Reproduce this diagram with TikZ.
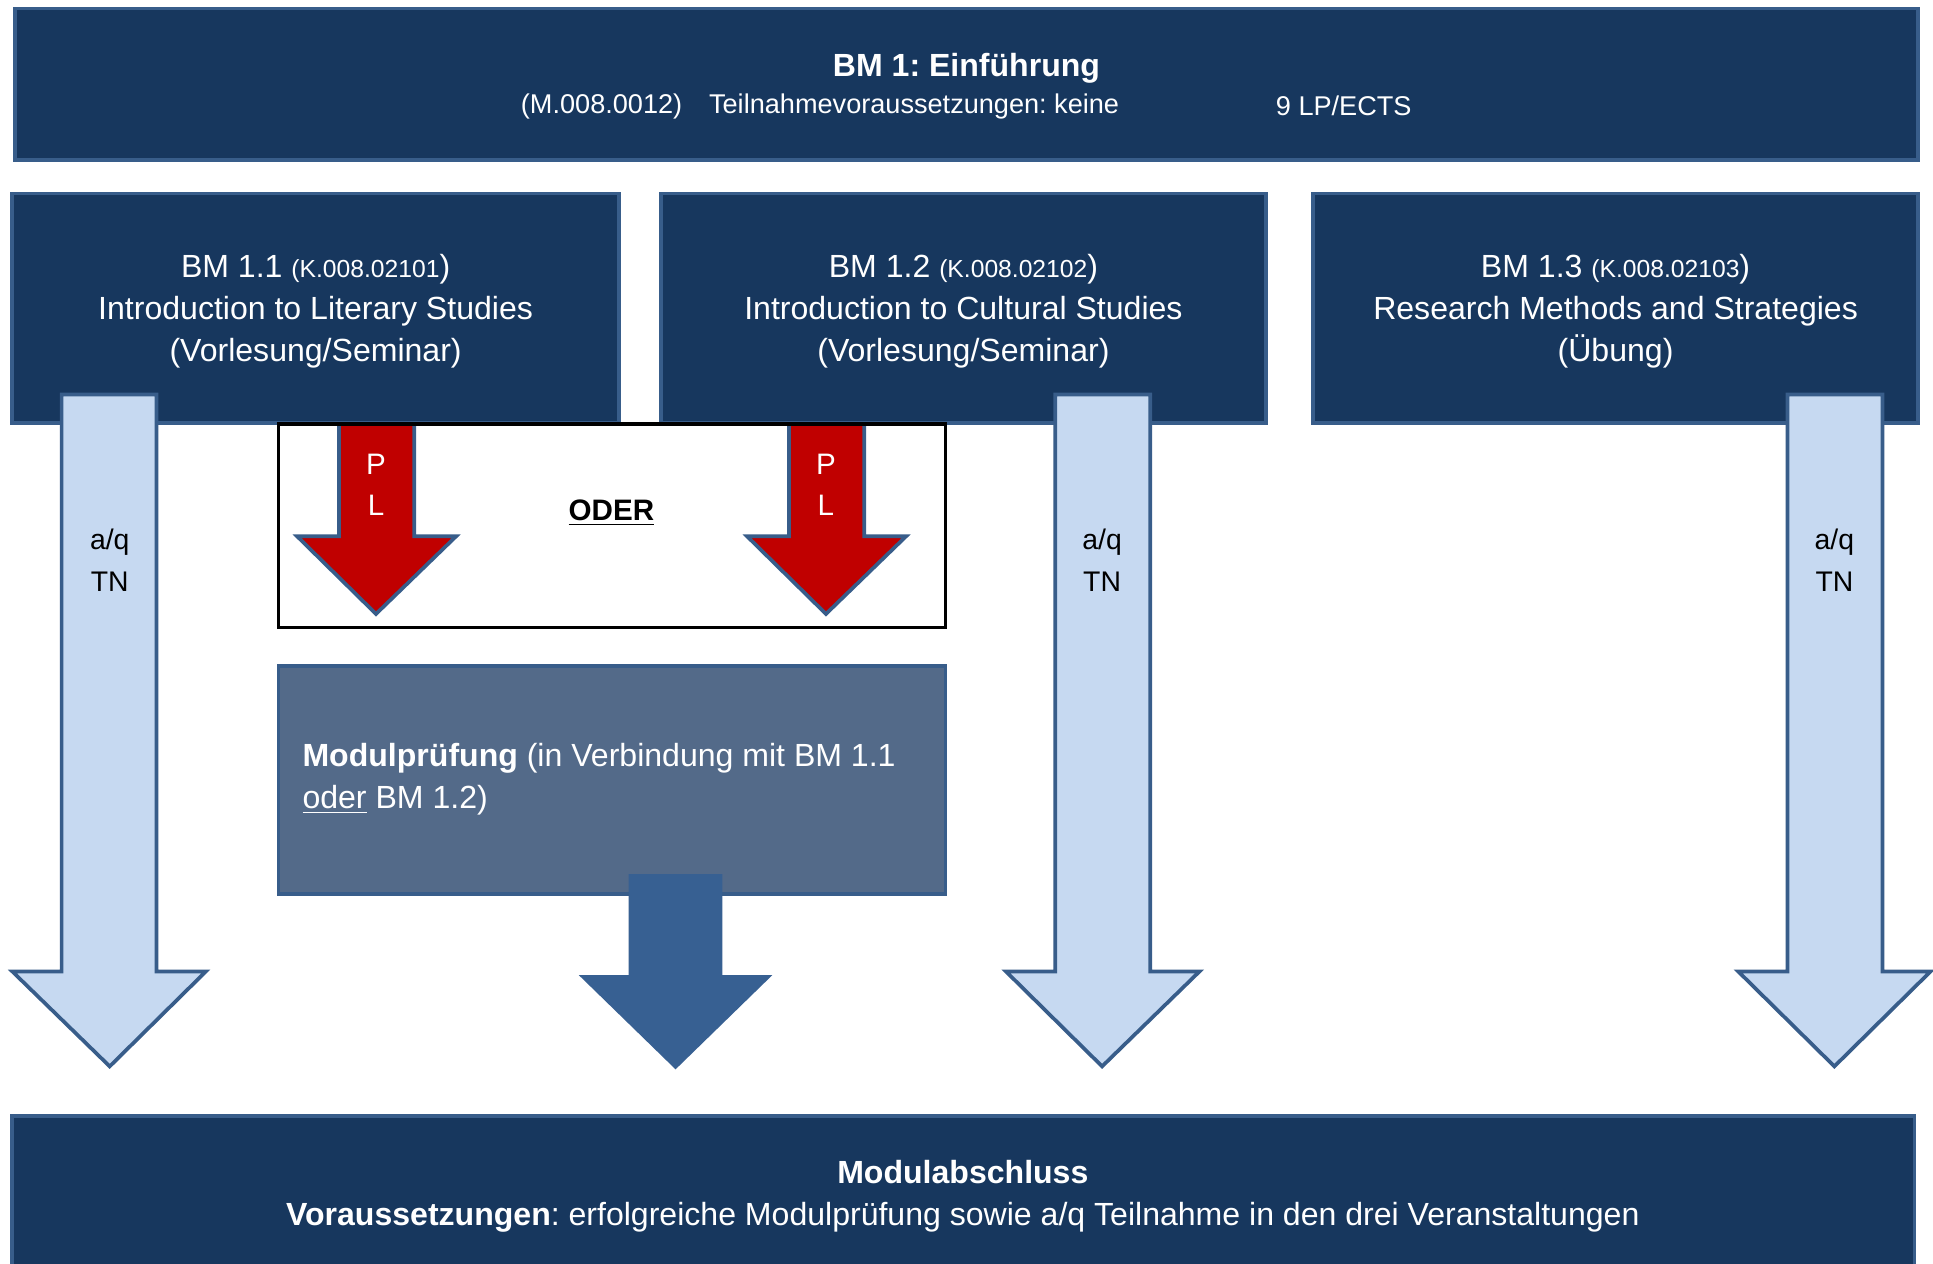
\documentclass[tikz,border=0pt]{standalone}
\usepackage{fontspec}
\setmainfont{Liberation Sans}
\frenchspacing
\definecolor{navy}{HTML}{17375E}
\definecolor{edgeblue}{HTML}{385D8A}
\definecolor{lightb}{HTML}{C6D9F1}
\definecolor{modulfill}{HTML}{536A89}
\definecolor{darkarr}{HTML}{376092}
\definecolor{redarr}{HTML}{C00000}
\begin{document}
\begin{tikzpicture}[x=0.5pt,y=-0.5pt,
  navybox/.style={draw=edgeblue, fill=navy, line width=1.5pt, inner sep=0pt, text=white},
  modulbox/.style={draw=edgeblue, fill=modulfill, line width=1.5pt, inner sep=0pt, text=white},
  oderbox/.style={draw=black, line width=1.5pt, inner sep=0pt},
  lightarrow/.style={draw=edgeblue, fill=lightb, line width=1.5pt},
  redarrow/.style={draw=edgeblue, fill=redarr, line width=1.5pt},
  darkarrow/.style={draw=darkarr, fill=darkarr, line width=1pt},
  big/.style={font=\fontsize{13}{17}\selectfont},
  mid/.style={font=\fontsize{11}{13}\selectfont},
  lbl/.style={font=\fontsize{11.5}{14}\selectfont, inner sep=0pt}
]
\useasboundingbox (0,0) rectangle (1568,1025);
\fill[white] (0,0) rectangle (1568,1025);

% top box
\node[navybox, minimum width=772pt, minimum height=61.5pt] (top) at (784,68.5) {};
\node[big, text=white, font=\fontsize{13}{17}\selectfont\bfseries] (toptitle) at (784,55) {BM 1: Einführung};
\node[mid, text=white] (topcode) at (488,86) {(M.008.0012)};
\node[mid, text=white] (topreq) at (741.5,86) {Teilnahmevoraussetzungen: keine};
\node[mid, text=white] (topects) at (1090,86) {9 LP/ECTS};

% row boxes
\node[navybox, minimum width=246pt, minimum height=93pt] (bm11) at (256,250) {};
\node[navybox, minimum width=245.5pt, minimum height=93pt] (bm12) at (781.5,250) {};
\node[navybox, minimum width=245.5pt, minimum height=93pt] (bm13) at (1310.5,250) {};
\node[big, text=white, align=center] (bm11txt) at (256,252.5)
  {BM 1.1 {\fontsize{10}{12}\selectfont(K.008.02101})\\Introduction to Literary Studies\\(Vorlesung/Seminar)};
\node[big, text=white, align=center] (bm12txt) at (781.5,252.5)
  {BM 1.2 {\fontsize{10}{12}\selectfont(K.008.02102})\\Introduction to Cultural Studies\\(Vorlesung/Seminar)};
\node[big, text=white, align=center] (bm13txt) at (1310.5,252.5)
  {BM 1.3 {\fontsize{10}{12}\selectfont(K.008.02103})\\Research Methods and Strategies\\(Übung)};

% light arrows
\draw[lightarrow] (50,320) -- (127,320) -- (127,788) -- (167,788) -- (89,865) -- (10,788) -- (50,788) -- cycle;
\draw[lightarrow] (856,320) -- (933,320) -- (933,788) -- (973,788) -- (894,865) -- (816,788) -- (856,788) -- cycle;
\draw[lightarrow] (1450,320) -- (1527,320) -- (1527,788) -- (1566,788) -- (1488,865) -- (1410,788) -- (1450,788) -- cycle;
\node[lbl] (aq1) at (89,440) {a/q};
\node[lbl] (tn1) at (89,472) {TN};
\node[lbl] (aq2) at (894,440) {a/q};
\node[lbl] (tn2) at (894,472) {TN};
\node[lbl] (aq3) at (1488,440) {a/q};
\node[lbl] (tn3) at (1488,472) {TN};

% ODER box
\fill[white] (226,344) rectangle (767,509);
\draw[redarrow] (275,344) -- (336,344) -- (336,435) -- (370,435) -- (305,498) -- (241,435) -- (275,435) -- cycle;
\draw[redarrow] (640,344) -- (701,344) -- (701,435) -- (735,435) -- (670,498) -- (606,435) -- (640,435) -- cycle;
\node[oderbox, minimum width=270.5pt, minimum height=82.5pt] (oder) at (496.5,426.5) {};
\node[lbl, font=\fontsize{12}{14}\selectfont\bfseries] (odertxt) at (496,416) {\underline{ODER}};
\node[lbl, text=white, font=\fontsize{12}{14}\selectfont] (p1) at (305,377) {P};
\node[lbl, text=white, font=\fontsize{12}{14}\selectfont] (l1) at (305,410) {L};
\node[lbl, text=white, font=\fontsize{12}{14}\selectfont] (p2) at (670,377) {P};
\node[lbl, text=white, font=\fontsize{12}{14}\selectfont] (l2) at (670,410) {L};

% Modulpruefung box
\node[modulbox, minimum width=270.5pt, minimum height=92.5pt] (modul) at (496.5,632.5) {};
\node[big, text=white, align=left, anchor=west, inner sep=0pt] (modultxt) at (245,632)
  {\textbf{Modulprüfung} (in Verbindung mit BM 1.1\\\underline{oder} BM 1.2)};
\draw[darkarrow] (511,710) -- (585,710) -- (585,792) -- (624,792) -- (548,866) -- (472,792) -- (511,792) -- cycle;

% bottom box
\node[navybox, minimum width=771.5pt, minimum height=70pt] (bottom) at (781.5,975) {};
\node[big, text=white, font=\fontsize{13}{17}\selectfont\bfseries] (bottitle) at (781,951) {Modulabschluss};
\node[big, text=white] (botreq) at (781,987) {\textbf{Voraussetzungen}: erfolgreiche Modulprüfung sowie a/q Teilnahme in den drei Veranstaltungen};
\end{tikzpicture}
\end{document}
